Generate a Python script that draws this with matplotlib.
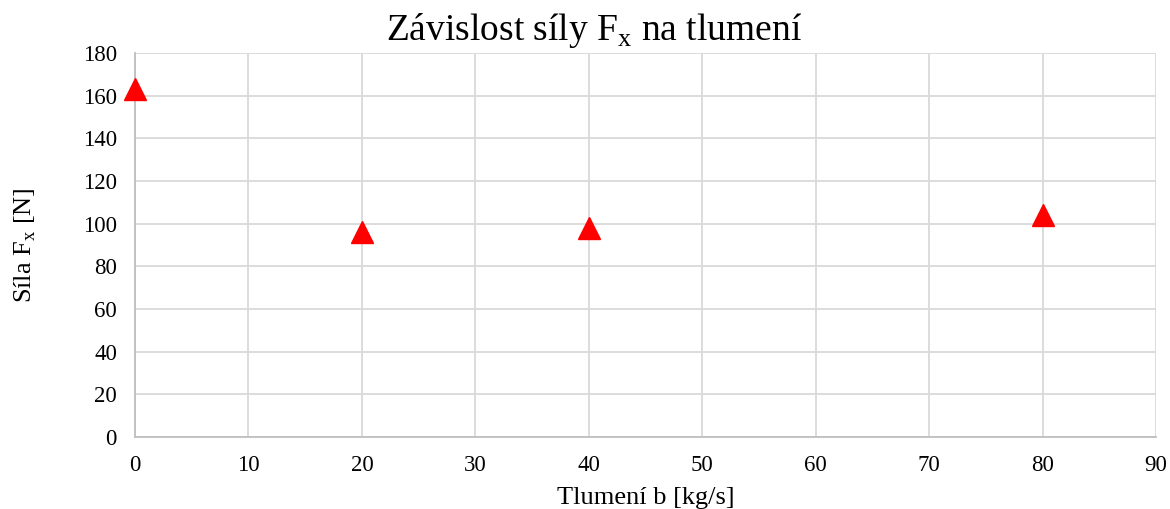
import matplotlib.pyplot as plt

plt.rcParams['font.family'] = 'Liberation Serif'
plt.rcParams['mathtext.fontset'] = 'custom'
plt.rcParams['mathtext.rm'] = 'Liberation Serif'

# damping b [kg/s] vs. force Fx [N]
b = [0, 20, 40, 80]
fx = [163, 96, 98, 104]

xticks = list(range(0, 100, 10))
yticks = list(range(0, 200, 20))

fig = plt.figure(figsize=(11.7, 5.09), dpi=100)
ax = fig.add_axes([0.1154, 0.1414, 0.8726, 0.7545])

ax.plot(b, fx, linestyle='none', marker='^', markersize=16,
        color='#ff0000', clip_on=False, zorder=3)

ax.set_xlim(0, 90)
ax.set_ylim(0, 180)
ax.set_xticks(xticks)
ax.set_yticks(yticks)
ax.grid(True, color='#d9d9d9', linewidth=1.3)
ax.set_axisbelow(True)
ax.tick_params(length=0, labelsize=16.5)
ax.tick_params(axis='y', pad=13)
ax.tick_params(axis='x', pad=13)

for side in ['top', 'right']:
    ax.spines[side].set_visible(False)
for side in ['left', 'bottom']:
    ax.spines[side].set_color('#bfbfbf')
    ax.spines[side].set_linewidth(1.3)

fig.text(0.508, 0.94, 'Závislost síly F$_\\mathregular{x}$ na tlumení',
         fontsize=27, ha='center', va='center')
ax.set_xlabel('Tlumení b [kg/s]', fontsize=19, labelpad=8)
ax.set_ylabel('Síla F$_\\mathregular{x}$ [N]', fontsize=19, labelpad=32)

fig.savefig('out.png')
